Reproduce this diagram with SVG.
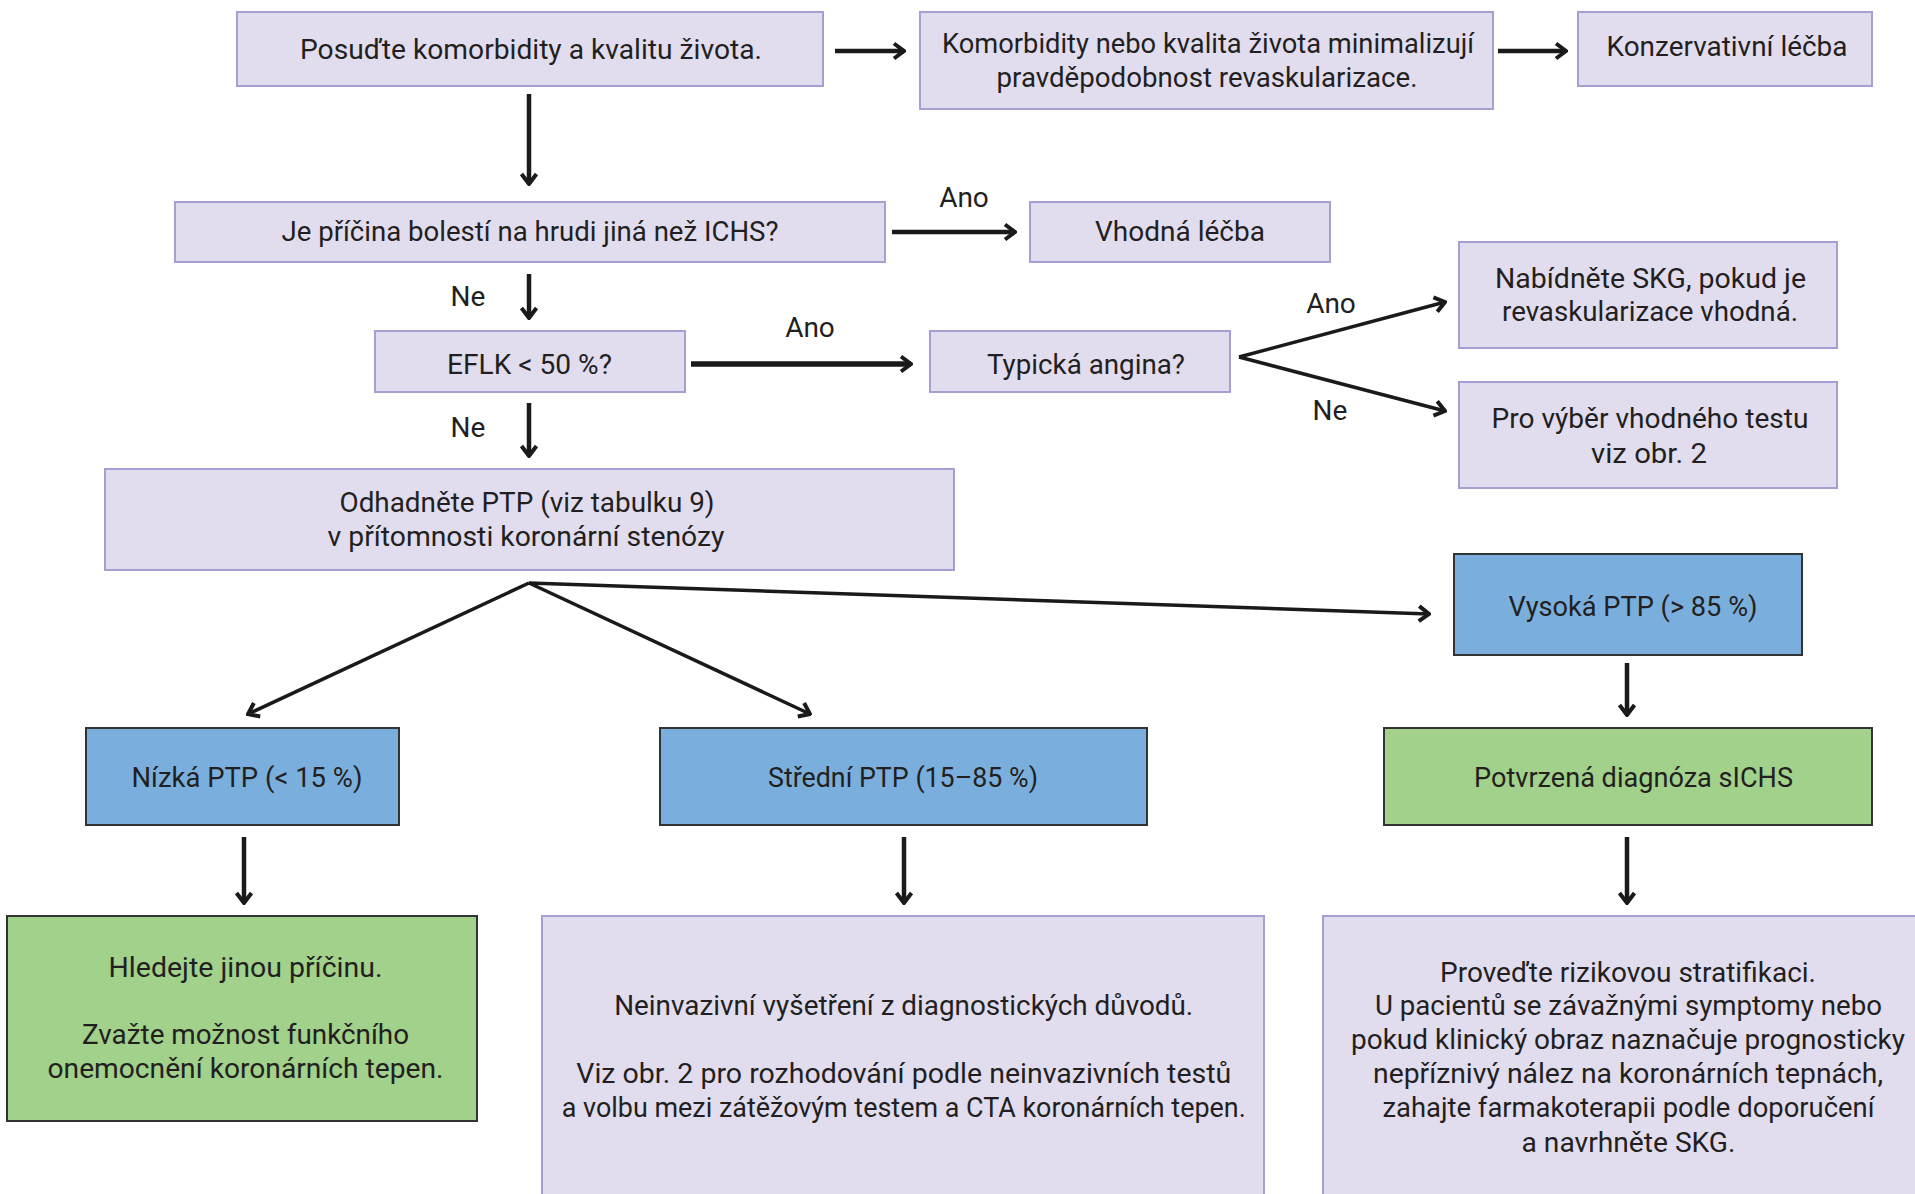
<svg xmlns="http://www.w3.org/2000/svg" width="1915" height="1194" viewBox="0 0 1915 1194">
<style>
.lav{fill:#e1ddef;stroke:#a79ed4;stroke-width:2}
.blu{fill:#7aafdd;stroke:#333333;stroke-width:2}
.grn{fill:#a1d18b;stroke:#333333;stroke-width:2}
text{font-family:Roboto,"Liberation Sans",sans-serif;font-size:28px;fill:#231f20;text-anchor:middle}
.c line{stroke:#1a1a1a;fill:none;stroke-width:4.5}
.c line.d{stroke-width:3.5}
</style>
<defs>
<marker id="ah" viewBox="-14 -10 16 20" refX="0" refY="0" markerWidth="16" markerHeight="20" markerUnits="userSpaceOnUse" orient="auto">
<path d="M-10,-7.5 L0,0 L-10,7.5" fill="none" stroke="#1a1a1a" stroke-width="4"/>
</marker>
</defs>
<rect width="1915" height="1194" fill="#ffffff"/>

<g id="n1"><rect class="lav" x="237" y="12" width="586" height="74"/>
<text x="531" y="59" textLength="462" lengthAdjust="spacingAndGlyphs">Posuďte komorbidity a kvalitu života.</text></g>
<g id="n2"><rect class="lav" x="920" y="12" width="573" height="97"/>
<text x="1208" y="53" textLength="532" lengthAdjust="spacingAndGlyphs">Komorbidity nebo kvalita života minimalizují</text>
<text x="1207" y="87" textLength="421" lengthAdjust="spacingAndGlyphs">pravděpodobnost revaskularizace.</text></g>
<g id="n3"><rect class="lav" x="1578" y="12" width="294" height="74"/>
<text x="1727" y="56" textLength="241" lengthAdjust="spacingAndGlyphs">Konzervativní léčba</text></g>
<g id="n4"><rect class="lav" x="175" y="202" width="710" height="60"/>
<text x="530" y="241" textLength="497" lengthAdjust="spacingAndGlyphs">Je příčina bolestí na hrudi jiná než ICHS?</text></g>
<g id="n5"><rect class="lav" x="1030" y="202" width="300" height="60"/>
<text x="1180" y="241" textLength="170" lengthAdjust="spacingAndGlyphs">Vhodná léčba</text></g>
<g id="n6"><rect class="lav" x="375" y="331" width="310" height="61"/>
<text x="529.5" y="374" textLength="165" lengthAdjust="spacingAndGlyphs">EFLK &lt; 50 %?</text></g>
<g id="n7"><rect class="lav" x="930" y="331" width="300" height="61"/>
<text x="1086" y="374" textLength="198" lengthAdjust="spacingAndGlyphs">Typická angina?</text></g>
<g id="n8"><rect class="lav" x="1459" y="242" width="378" height="106"/>
<text x="1650.5" y="288" textLength="311" lengthAdjust="spacingAndGlyphs">Nabídněte SKG, pokud je</text>
<text x="1650" y="321" textLength="296" lengthAdjust="spacingAndGlyphs">revaskularizace vhodná.</text></g>
<g id="n9"><rect class="lav" x="1459" y="382" width="378" height="106"/>
<text x="1650" y="428" textLength="317" lengthAdjust="spacingAndGlyphs">Pro výběr vhodného testu</text>
<text x="1649" y="463" textLength="116" lengthAdjust="spacingAndGlyphs">viz obr. 2</text></g>
<g id="n10"><rect class="lav" x="105" y="469" width="849" height="101"/>
<text x="527" y="512" textLength="375" lengthAdjust="spacingAndGlyphs">Odhadněte PTP (viz tabulku 9)</text>
<text x="526" y="546" textLength="397" lengthAdjust="spacingAndGlyphs">v přítomnosti koronární stenózy</text></g>
<g id="n11"><rect class="blu" x="1454" y="554" width="348" height="101"/>
<text x="1633" y="616" textLength="249" lengthAdjust="spacingAndGlyphs">Vysoká PTP (&gt; 85 %)</text></g>
<g id="n12"><rect class="blu" x="86" y="728" width="313" height="97"/>
<text x="247" y="787" textLength="231" lengthAdjust="spacingAndGlyphs">Nízká PTP (&lt; 15 %)</text></g>
<g id="n13"><rect class="blu" x="660" y="728" width="487" height="97"/>
<text x="903" y="787" textLength="270" lengthAdjust="spacingAndGlyphs">Střední PTP (15–85 %)</text></g>
<g id="n14"><rect class="grn" x="1384" y="728" width="488" height="97"/>
<text x="1633.5" y="787" textLength="319" lengthAdjust="spacingAndGlyphs">Potvrzená diagnóza sICHS</text></g>
<g id="n15"><rect class="grn" x="7" y="916" width="470" height="205"/>
<text x="245.5" y="977" textLength="274" lengthAdjust="spacingAndGlyphs">Hledejte jinou příčinu.</text>
<text x="245.5" y="1044" textLength="327" lengthAdjust="spacingAndGlyphs">Zvažte možnost funkčního</text>
<text x="245.5" y="1078" textLength="396" lengthAdjust="spacingAndGlyphs">onemocnění koronárních tepen.</text></g>
<g id="n16"><rect class="lav" x="542" y="916" width="722" height="290"/>
<text x="903.7" y="1015" textLength="579" lengthAdjust="spacingAndGlyphs">Neinvazivní vyšetření z diagnostických důvodů.</text>
<text x="903.8" y="1083" textLength="655" lengthAdjust="spacingAndGlyphs">Viz obr. 2 pro rozhodování podle neinvazivních testů</text>
<text x="903.8" y="1117" textLength="684" lengthAdjust="spacingAndGlyphs">a volbu mezi zátěžovým testem a CTA koronárních tepen.</text></g>
<g id="n17"><rect class="lav" x="1323" y="916" width="600" height="290"/>
<text x="1628" y="982" textLength="376" lengthAdjust="spacingAndGlyphs">Proveďte rizikovou stratifikaci.</text>
<text x="1628.5" y="1015" textLength="507" lengthAdjust="spacingAndGlyphs">U pacientů se závažnými symptomy nebo</text>
<text x="1628" y="1049" textLength="554" lengthAdjust="spacingAndGlyphs">pokud klinický obraz naznačuje prognosticky</text>
<text x="1628" y="1083" textLength="510" lengthAdjust="spacingAndGlyphs">nepříznivý nález na koronárních tepnách,</text>
<text x="1628.5" y="1117" textLength="492" lengthAdjust="spacingAndGlyphs">zahajte farmakoterapii podle doporučení</text>
<text x="1628.5" y="1152" textLength="214" lengthAdjust="spacingAndGlyphs">a navrhněte SKG.</text></g>

<g id="connectors" class="c">
<line x1="835" y1="51" x2="904" y2="51" marker-end="url(#ah)"/>
<line x1="1498" y1="51" x2="1566" y2="51" marker-end="url(#ah)"/>
<line x1="529" y1="94" x2="529" y2="184" marker-end="url(#ah)"/>
<line x1="892" y1="232" x2="1015" y2="232" marker-end="url(#ah)"/>
<line x1="529" y1="274" x2="529" y2="318" marker-end="url(#ah)"/>
<line x1="691" y1="364" x2="911" y2="364" style="stroke-width:5.5" marker-end="url(#ah)"/>
<line x1="529" y1="403" x2="529" y2="456" marker-end="url(#ah)"/>
<line class="d" x1="1239" y1="357" x2="1445" y2="302" marker-end="url(#ah)"/>
<line class="d" x1="1239" y1="357" x2="1445" y2="411" marker-end="url(#ah)"/>
<line class="d" x1="529" y1="583" x2="248" y2="714" marker-end="url(#ah)"/>
<line class="d" x1="529" y1="583" x2="810" y2="714" marker-end="url(#ah)"/>
<line class="d" x1="529" y1="583" x2="1429" y2="614" marker-end="url(#ah)"/>
<line x1="1627" y1="663" x2="1627" y2="715" marker-end="url(#ah)"/>
<line x1="244" y1="837" x2="244" y2="903" marker-end="url(#ah)"/>
<line x1="904" y1="837" x2="904" y2="903" marker-end="url(#ah)"/>
<line x1="1627" y1="837" x2="1627" y2="903" marker-end="url(#ah)"/>
</g>
<g id="labels">
<text x="964" y="207">Ano</text>
<text x="468" y="306">Ne</text>
<text x="810" y="337">Ano</text>
<text x="1331" y="313">Ano</text>
<text x="1330" y="420">Ne</text>
<text x="468" y="437">Ne</text>
</g>
</svg>
